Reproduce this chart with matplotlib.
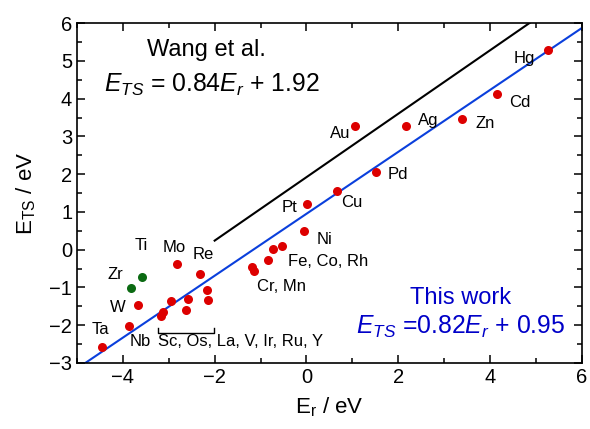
import matplotlib

matplotlib.use("Agg")
import matplotlib.pyplot as plt
from matplotlib.ticker import MultipleLocator

plt.rcParams["font.family"] = ["Liberation Sans", "DejaVu Sans"]
plt.rcParams["mathtext.fontset"] = "custom"
plt.rcParams["mathtext.rm"] = "Liberation Sans"
plt.rcParams["mathtext.it"] = "Liberation Sans:italic"

# metals on the fitted line (red) and the two outliers (green)
RED_X = [5.26, 4.15, 3.39, 2.17, 1.06, 1.51, 0.66, 0.01, -0.05,
         -0.53, -0.73, -0.84, -1.19, -1.14,
         -2.81, -2.32, -3.66, -4.45, -3.86,
         -2.95, -2.59, -2.17, -2.14, -2.63, -3.12, -3.17]
RED_Y = [5.29, 4.12, 3.46, 3.28, 3.28, 2.06, 1.56, 1.21, 0.50,
         0.10, 0.02, -0.27, -0.46, -0.56,
         -0.39, -0.65, -1.47, -2.58, -2.03,
         -1.35, -1.31, -1.07, -1.34, -1.61, -1.64, -1.77]
GREEN_X = [-3.58, -3.82]
GREEN_Y = [-0.73, -1.02]

# fits
WANG_SLOPE, WANG_ICPT = 0.84, 1.92
WANG_X = [-2.0, 6.0]
THIS_SLOPE, THIS_ICPT = 0.82, 0.95
THIS_X = [-5.0, 6.0]

LABELS = ["Hg", "Cd", "Zn", "Ag", "Au", "Pd", "Cu", "Pt", "Ni",
          "Ti", "Mo", "Re", "Zr", "W", "Ta", "Nb"]
LABEL_X = [4.74, 4.65, 3.89, 2.65, 0.73, 1.99, 0.99, -0.36, 0.40,
           -3.61, -2.89, -2.25, -4.17, -4.11, -4.50, -3.63]
LABEL_Y = [5.07, 3.91, 3.35, 3.43, 3.09, 1.98, 1.24, 1.13, 0.26,
           0.10, 0.05, -0.14, -0.67, -1.54, -2.12, -2.44]

GROUP_LABELS = ["Fe, Co, Rh", "Cr, Mn", "Sc, Os, La, V, Ir, Ru, Y"]
GROUP_X = [-0.40, -1.08, -3.24]
GROUP_Y = [-0.32, -0.98, -2.44]

RED = "#dd0000"
GREEN = "#0b6a12"
BLUE_LINE = "#0a3fdc"
BLUE_TEXT = "#0000c8"


def main() -> None:
    fig = plt.figure(figsize=(5.9, 4.29), dpi=100)
    ax = fig.add_axes([0.1305, 0.154, 0.8555, 0.792])

    ax.plot(WANG_X, [WANG_SLOPE * x + WANG_ICPT for x in WANG_X],
            color="black", linewidth=1.5)
    ax.plot(THIS_X, [THIS_SLOPE * x + THIS_ICPT for x in THIS_X],
            color=BLUE_LINE, linewidth=1.5)

    ax.plot(RED_X, RED_Y, "o", color=RED, markersize=6.5, markeredgewidth=0)
    ax.plot(GREEN_X, GREEN_Y, "o", color=GREEN, markersize=6.5, markeredgewidth=0)

    for text, x, y in zip(LABELS, LABEL_X, LABEL_Y):
        ax.text(x, y, text, fontsize=12, ha="center", va="center")
    for text, x, y in zip(GROUP_LABELS, GROUP_X, GROUP_Y):
        ax.text(x, y, text, fontsize=12, ha="left", va="center")

    # bracket under the Sc group
    ax.plot([-3.24, -3.24, -2.02, -2.02], [-2.08, -2.21, -2.21, -2.08],
            color="black", linewidth=1.0)

    ax.text(-2.17, 5.29, "Wang et al.", fontsize=17, ha="center", va="center")
    ax.text(-2.06, 4.36, r"$E_{TS}$ = 0.84$E_r$ + 1.92", fontsize=17.8,
            ha="center", va="center")
    ax.text(3.37, -1.28, "This work", fontsize=17, ha="center", va="center",
            color=BLUE_TEXT)
    ax.text(3.37, -2.04, r"$E_{TS}$ =0.82$E_r$ + 0.95", fontsize=17.8,
            ha="center", va="center", color=BLUE_TEXT)

    ax.set_xlim(-5, 6)
    ax.set_ylim(-3, 6)
    ax.xaxis.set_major_locator(MultipleLocator(2))
    ax.xaxis.set_minor_locator(MultipleLocator(1))
    ax.yaxis.set_major_locator(MultipleLocator(1))
    ax.yaxis.set_minor_locator(MultipleLocator(0.5))
    ax.tick_params(which="both", direction="in", top=True, right=True,
                   width=1.1, labelsize=14.5)
    ax.tick_params(which="major", length=6)
    ax.tick_params(which="minor", length=3.5)
    for spine in ax.spines.values():
        spine.set_linewidth(1.2)

    ax.set_xlabel(r"E$_\mathrm{r}$ / eV", fontsize=16, labelpad=6)
    ax.set_ylabel(r"E$_\mathrm{TS}$ / eV", fontsize=16, labelpad=8)

    fig.savefig("out.png")


if __name__ == "__main__":
    main()
